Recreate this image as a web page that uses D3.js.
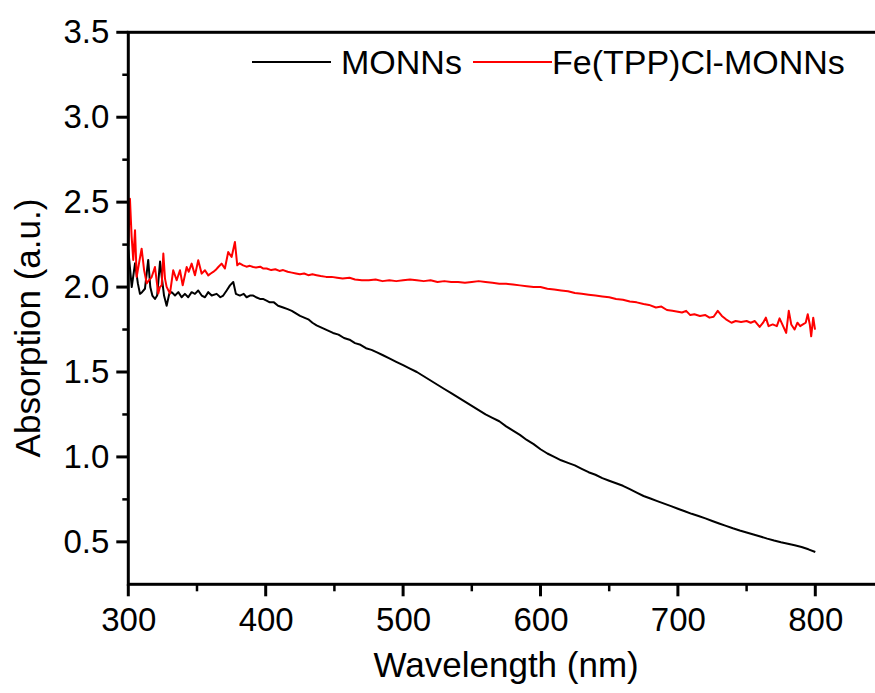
<!DOCTYPE html>
<html>
<head>
<meta charset="utf-8">
<script src="https://cdn.jsdelivr.net/npm/d3@7"></script>
<style>
  body { margin: 0; background: #fff; }
  svg { display: block; font-family: "Liberation Sans", Arial, sans-serif; }
</style>
</head>
<body>
<div id="chart"></div>
<script>
// MONNs (black) spectrum
const monnsWl = [300, 302.5, 304.9, 307, 308.5, 310, 312.1, 314.5, 316, 317.5, 319.4, 321, 323.1, 324.5, 326, 327.9, 329.8, 331.6, 334, 336.4, 338.8, 341.2, 343.6, 346.1, 348.5, 350.9, 353.4, 355.8, 358.2, 360.7, 364.3, 367, 369.1, 371.6, 374, 376.4, 378.3, 381.2, 384, 386.1, 388.5, 390.9, 393, 395.8, 398, 400.6, 403, 406, 409, 412.7, 416, 419, 422, 425, 428, 431, 434, 437, 441, 445, 449, 453, 457, 461, 465, 469, 473, 477, 481, 485, 490, 495, 500, 505, 510, 515, 520, 525, 530, 535, 540, 545, 550, 555, 560, 565, 570, 575, 580, 585, 590, 595, 600, 605, 610, 615, 620, 625, 630, 635, 640, 645, 650, 655, 660, 665, 670, 675, 680, 685, 690, 695, 700, 705, 710, 715, 720, 725, 730, 735, 740, 745, 750, 755, 760, 765, 770, 775, 780, 785, 790, 795, 800];
const monnsAbs = [2.22, 2.00, 2.14, 2.02, 1.96, 1.97, 1.99, 2.16, 2.00, 1.95, 1.93, 1.95, 2.15, 2.05, 1.95, 1.89, 1.96, 1.97, 1.95, 1.97, 1.94, 1.96, 1.94, 1.97, 1.96, 1.98, 1.95, 1.94, 1.97, 1.95, 1.96, 1.94, 1.95, 1.98, 2.01, 2.03, 1.96, 1.95, 1.96, 1.94, 1.95, 1.95, 1.94, 1.93, 1.93, 1.92, 1.91, 1.91, 1.89, 1.88, 1.87, 1.86, 1.845, 1.83, 1.82, 1.81, 1.79, 1.775, 1.76, 1.745, 1.73, 1.72, 1.70, 1.69, 1.67, 1.66, 1.64, 1.63, 1.615, 1.60, 1.58, 1.56, 1.54, 1.52, 1.50, 1.475, 1.45, 1.425, 1.40, 1.375, 1.35, 1.325, 1.30, 1.275, 1.25, 1.23, 1.21, 1.18, 1.155, 1.13, 1.10, 1.075, 1.045, 1.02, 1.00, 0.98, 0.965, 0.95, 0.93, 0.91, 0.895, 0.875, 0.86, 0.845, 0.83, 0.81, 0.79, 0.77, 0.755, 0.74, 0.725, 0.71, 0.695, 0.68, 0.665, 0.652, 0.638, 0.623, 0.608, 0.594, 0.58, 0.567, 0.555, 0.543, 0.531, 0.519, 0.508, 0.498, 0.489, 0.48, 0.47, 0.456, 0.44];

// Fe(TPP)Cl-MONNs (red) spectrum
const feWl = [300, 301.2, 302.4, 303.6, 304.9, 306.1, 308, 309.7, 311.5, 313.4, 315, 317, 319.4, 321.8, 323, 324.3, 325.5, 326.7, 327.9, 330.3, 332.7, 335.2, 337.6, 339.6, 342.5, 344, 346.1, 348.5, 350.9, 353.4, 355.8, 358.2, 360, 361.8, 363.5, 365.5, 367.9, 370.3, 372.7, 375.2, 377.6, 379.3, 381, 383.6, 386, 388.5, 390.9, 393, 396, 398, 400.7, 404, 407, 410, 412.7, 416, 419, 422, 424.9, 428, 431, 434, 437, 440, 444, 448, 452, 456, 461, 465, 470, 475, 480, 485, 490, 495, 500, 505, 510, 515, 520, 525, 530, 535, 540, 545, 550, 555, 560, 565, 570, 575, 580, 585, 590, 595, 600, 605, 610, 615, 620, 625, 630, 635, 640, 645, 650, 655, 660, 665, 670, 675, 679, 684, 688, 692, 696, 700, 703, 706, 709, 712, 716, 720, 723, 726, 729, 732, 735, 739, 742, 746, 750, 753, 756, 759.5, 762, 764, 766, 769, 772, 774, 776, 778.8, 780.7, 782.5, 784.9, 787, 789, 791, 793, 794.5, 796, 797, 798.5, 799.8];
const feAbs = [2.24, 2.52, 2.30, 2.16, 2.335, 2.06, 2.15, 2.226, 2.10, 2.022, 2.04, 2.059, 2.118, 1.962, 2.00, 2.011, 2.197, 2.05, 2.001, 1.962, 2.099, 2.04, 2.099, 2.011, 2.118, 2.09, 2.138, 2.069, 2.158, 2.079, 2.099, 2.069, 2.08, 2.089, 2.10, 2.118, 2.138, 2.109, 2.206, 2.177, 2.265, 2.128, 2.14, 2.128, 2.12, 2.125, 2.118, 2.115, 2.12, 2.11, 2.109, 2.10, 2.105, 2.095, 2.10, 2.09, 2.085, 2.08, 2.075, 2.08, 2.07, 2.075, 2.07, 2.065, 2.06, 2.06, 2.055, 2.05, 2.055, 2.045, 2.04, 2.04, 2.045, 2.035, 2.04, 2.035, 2.04, 2.045, 2.04, 2.035, 2.04, 2.03, 2.035, 2.03, 2.03, 2.025, 2.03, 2.035, 2.03, 2.025, 2.02, 2.02, 2.015, 2.01, 2.005, 2.00, 2.00, 1.99, 1.985, 1.98, 1.975, 1.965, 1.96, 1.955, 1.95, 1.945, 1.94, 1.93, 1.925, 1.915, 1.91, 1.90, 1.895, 1.88, 1.885, 1.865, 1.86, 1.855, 1.85, 1.86, 1.835, 1.84, 1.83, 1.835, 1.82, 1.825, 1.86, 1.83, 1.81, 1.79, 1.80, 1.795, 1.80, 1.79, 1.80, 1.765, 1.79, 1.82, 1.77, 1.78, 1.77, 1.816, 1.78, 1.73, 1.86, 1.78, 1.75, 1.79, 1.77, 1.78, 1.79, 1.84, 1.78, 1.71, 1.82, 1.75];

const xMajor = [300, 400, 500, 600, 700, 800];
const xMinor = [350, 450, 550, 650, 750, 850];
const yMajor = [0.5, 1.0, 1.5, 2.0, 2.5, 3.0, 3.5];
const yMinor = [0.75, 1.25, 1.75, 2.25, 2.75, 3.25];

const legendNames = ["MONNs", "Fe(TPP)Cl-MONNs"];
const colors = ["#000000", "#ff0000"];

const width = 875, height = 693;

const svg = d3.select("#chart")
  .append("svg")
  .attr("width", width)
  .attr("height", height);

const x = d3.scaleLinear().domain([300, 850]).range([128.3, 884]);
const y = d3.scaleLinear().domain([0.25, 3.5]).range([584.3, 32.3]);

const line = d3.line()
  .x(d => x(d[0]))
  .y(d => y(d[1]));

const monns = monnsWl.map((w, i) => [w, monnsAbs[i]]);
const fe = feWl.map((w, i) => [w, feAbs[i]]);

// spectra
svg.append("path")
  .datum(monns)
  .attr("d", line)
  .attr("fill", "none")
  .attr("stroke", colors[0])
  .attr("stroke-width", 2)
  .attr("stroke-linejoin", "round");

svg.append("path")
  .datum(fe)
  .attr("d", line)
  .attr("fill", "none")
  .attr("stroke", colors[1])
  .attr("stroke-width", 2)
  .attr("stroke-linejoin", "round");

// axes: d3 axes for the labels, tick marks drawn as plain lines
const x0 = x(300), y0 = y(0.25);

svg.append("g")
  .attr("transform", `translate(0,${y0})`)
  .call(d3.axisBottom(x).tickValues(xMajor).tickFormat(d3.format("d")).tickSize(0).tickPadding(23))
  .call(g => g.select(".domain").remove())
  .call(g => g.selectAll("text").attr("fill", "#000").style("font-size", "33px"));

svg.append("g")
  .attr("transform", `translate(${x0},0)`)
  .call(d3.axisLeft(y).tickValues(yMajor).tickFormat(d3.format(".1f")).tickSize(0).tickPadding(19))
  .call(g => g.select(".domain").remove())
  .call(g => g.selectAll("text").attr("fill", "#000").style("font-size", "33px"));

function tickLines(cls, vals, horiz, len, w) {
  svg.selectAll("line." + cls)
    .data(vals)
    .join("line")
    .attr("class", cls)
    .attr("x1", d => horiz ? x0 - len : x(d))
    .attr("x2", d => horiz ? x0 : x(d))
    .attr("y1", d => horiz ? y(d) : y0)
    .attr("y2", d => horiz ? y(d) : y0 + len)
    .attr("stroke", "#000")
    .attr("stroke-width", w);
}

tickLines("xmaj", xMajor, false, 12, 3);
tickLines("xmin", xMinor, false, 7, 2.5);
tickLines("ymaj", yMajor, true, 12, 3);
tickLines("ymin", yMinor, true, 6, 2.5);

// frame
svg.append("rect")
  .attr("x", x0).attr("y", y(3.5))
  .attr("width", x(850) - x0).attr("height", y0 - y(3.5))
  .attr("fill", "none")
  .attr("stroke", "#000")
  .attr("stroke-width", 3);

// axis titles
svg.append("text")
  .attr("x", (x(300) + x(850)) / 2)
  .attr("y", 677)
  .attr("text-anchor", "middle")
  .style("font-size", "35px")
  .text("Wavelength (nm)");

svg.append("text")
  .attr("transform", "translate(40,328) rotate(-90)")
  .attr("text-anchor", "middle")
  .style("font-size", "35px")
  .text("Absorption (a.u.)");

// legend
const legendX = [252, 473];
legendNames.forEach((name, i) => {
  svg.append("line")
    .attr("x1", legendX[i]).attr("x2", legendX[i] + 79)
    .attr("y1", 62).attr("y2", 62)
    .attr("stroke", colors[i]).attr("stroke-width", 2);
  svg.append("text")
    .attr("x", legendX[i] + (i === 0 ? 89 : 79))
    .attr("y", 73.5)
    .style("font-size", "34px")
    .text(name);
});
</script>
</body>
</html>
